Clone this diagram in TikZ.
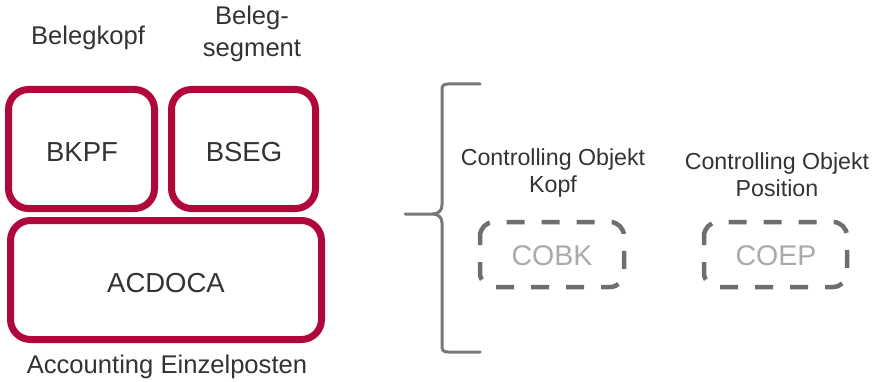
\documentclass[tikz,border=0pt]{standalone}
\usepackage{fontspec}
\setmainfont{Liberation Sans}
\definecolor{sapred}{RGB}{176,8,58}
\definecolor{txt}{RGB}{51,51,51}
\definecolor{dashgray}{RGB}{110,110,110}
\definecolor{lightgray}{RGB}{170,170,170}
\definecolor{bracegray}{RGB}{120,120,120}
\begin{document}
\begin{tikzpicture}[x=1pt,y=-1pt,
  redbox/.style={draw=sapred,line width=7pt,rounded corners=20pt},
  dashbox/.style={draw=dashgray,line width=4.5pt,rounded corners=14pt,dash pattern=on 18pt off 17pt,dash phase=9pt},
  lbl/.style={text=txt,font=\fontsize{25.6}{32}\selectfont,align=center,inner sep=0pt},
  clbl/.style={text=txt,font=\fontsize{23.2}{27}\selectfont,align=center,inner sep=0pt},
  boxtxt/.style={text=txt,font=\fontsize{27.5}{30}\selectfont,inner sep=0pt},
  ghost/.style={text=lightgray,font=\fontsize{28.5}{30}\selectfont,inner sep=0pt}]
\useasboundingbox (0,0) rectangle (874,382);
% red boxes
\draw[redbox] (8.5,89.5) rectangle (154.5,208.5);
\draw[redbox] (171.5,89.5) rectangle (315.5,208.5);
\draw[redbox] (10.5,220.5) rectangle (321.5,339.5);
\node[boxtxt] (bkpf) at (82,152) {BKPF};
\node[boxtxt] (bseg) at (244,152) {BSEG};
\node[boxtxt] (acdoca) at (166,283) {ACDOCA};
\node[lbl] (belegkopf) at (88,38) {Belegkopf};
\node[lbl] (belegseg) at (252,34) {Beleg-\\segment};
\node[lbl] (acc) at (167,367) {Accounting Einzelposten};
% brace
\draw[bracegray,line width=3pt,line cap=round,line join=round]
  (480,84) -- (448,84) .. controls (443,84) and (442,86) .. (442,90)
  -- (442,205) .. controls (442,211) and (438,214) .. (432,214) -- (405,214)
  -- (432,214) .. controls (438,214) and (442,217) .. (442,223)
  -- (442,346) .. controls (442,350) and (443,352) .. (448,352) -- (480,352);
% dashed boxes
\draw[dashbox] (480,222) rectangle (624,287);
\draw[dashbox] (704,222) rectangle (847,287);
\node[ghost] (cobk) at (552,256) {COBK};
\node[ghost] (coep) at (776,256) {COEP};
\node[clbl] (ckopf) at (553,173) {Controlling Objekt\\Kopf};
\node[clbl] (cpos) at (777,175) {Controlling Objekt\\Position};
\end{tikzpicture}
\end{document}
